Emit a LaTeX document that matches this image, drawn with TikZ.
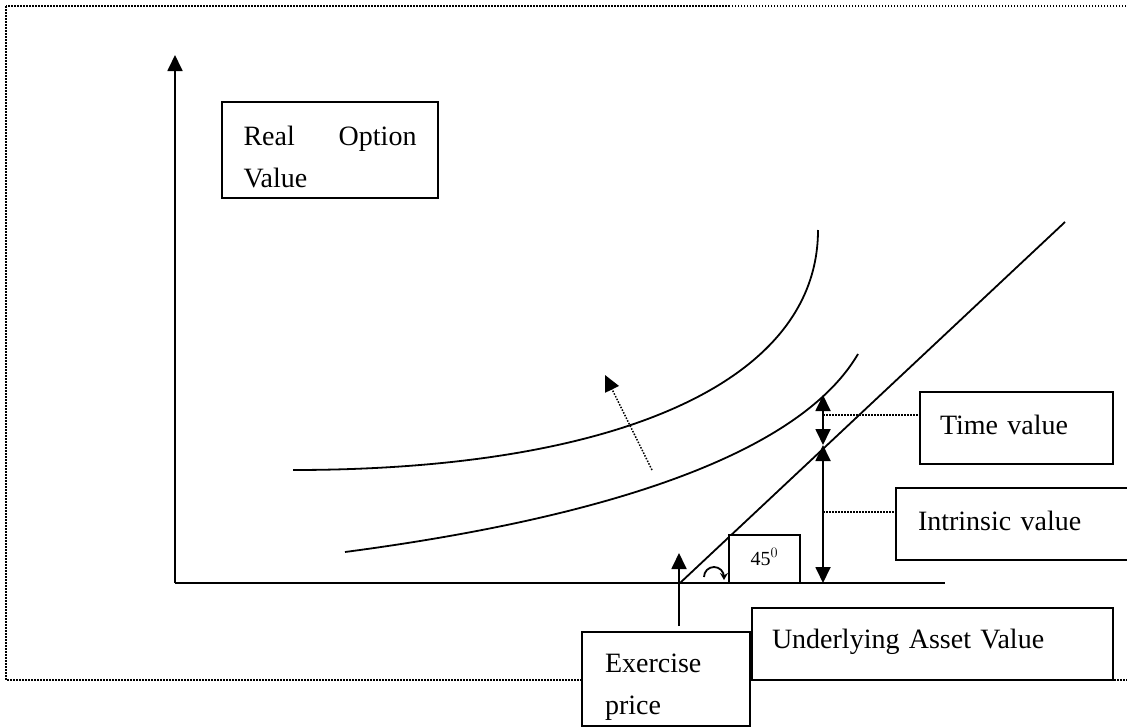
\documentclass[tikz,border=0pt]{standalone}
\usepackage{amsmath,amssymb}
\usepackage{xcolor}
\usepackage{fontspec}
\setmainfont{Liberation Serif}
\usepackage{tikz}
\usetikzlibrary{arrows.meta}

\begin{document}
\begin{tikzpicture}[x=1pt,y=-1pt,
		caja/.style={draw,fill=white,line width=1.8pt,inner sep=0pt,font=\fontsize{28}{42}\selectfont,align=left,text height=19pt},
		punta/.style={-{Triangle[width=15pt,length=16pt]}},
		doble/.style={{Triangle[width=15pt,length=16pt]}-{Triangle[width=15pt,length=16pt]}},
		linea/.style={line width=1.8pt},
		guia/.style={line width=1.5pt,dash pattern=on 1.5pt off 1.5pt}]
		% marco punteado y tamaño de la figura
		\useasboundingbox (0,0) rectangle (1127,728);
		\draw[guia] (6,6) rectangle (1140,680);
		
		% ejes
		\coordinate (origen) at (175,583);
		\coordinate (ytop) at (175,55);
		\coordinate (xfin) at (945,583);
		\draw[linea,punta] (origen) -- (ytop);
		\draw[linea] (origen) -- (xfin);
		
		% curvas de valor de la opción
		\coordinate (c1a) at (293,470);
		\coordinate (c1b) at (818,230);
		\draw[linea] (c1a) .. controls (610,470) and (818,385) .. (c1b);
		\coordinate (c2a) at (345,552);
		\coordinate (c2b) at (858,354);
		\draw[linea] (c2a) .. controls (550,525) and (790,470) .. (c2b);
		
		% flecha punteada hacia la curva superior
		\coordinate (fa) at (652,470);
		\coordinate (fb) at (605,375);
		\draw[guia,punta] (fa) -- (fb);
		
		% recta de 45 grados desde el precio de ejercicio
		\coordinate (strike) at (680,583);
		\coordinate (lfin) at (1065,222);
		\draw[linea] (strike) -- (lfin);
		
		% valor temporal y valor intrínseco
		\coordinate (tv) at (823,395);
		\coordinate (iv) at (823,445);
		\coordinate (base) at (823,583);
		\draw[linea,doble] (tv) -- (iv);
		\draw[linea,doble] (iv) -- (base);
		
		% cajas de texto
		\node[caja,minimum width=216pt,minimum height=96pt,text width=173pt,text depth=29pt] (rov) at (330,150) {Real\hfill Option\\Value};
		\node[caja,minimum width=193pt,minimum height=72pt,text width=153pt,text depth=7pt] (tiempo) at (1016.5,428) {Time value};
		\node[caja,minimum width=244pt,minimum height=72pt,text width=200pt,text depth=7pt] (intrin) at (1018,524) {Intrinsic value};
		\node[caja,minimum width=361pt,minimum height=72pt,text width=321pt,text depth=11pt] (subyac) at (932.5,644) {Underlying Asset Value};
		\node[caja,minimum width=168pt,minimum height=94pt,text width=122pt,text depth=33pt] (ejer) at (666,679) {Exercise\\price};
		\node[caja,minimum width=71pt,minimum height=48pt,text height=13pt,text depth=0pt,font=\fontsize{20}{22}\selectfont] (ang) at (764.5,559) {45$^0$};
		
		% líneas guía punteadas
		\draw[guia] (823,415) -- (tiempo.west |- 0,415);
		\draw[guia] (823,512) -- (intrin.west |- 0,512);
		
		% flecha del precio de ejercicio
		\coordinate (ejtop) at (679,553);
		\draw[linea,punta] (ejer.north -| ejtop) ++(0,-5) -- (ejtop);
		
		% símbolo del ángulo
		\draw[line width=1.8pt,-{Stealth[length=7pt,width=8pt]}] (704,577) arc (180:360:10) -- ++(0,3);
	\end{tikzpicture}
\end{document}
